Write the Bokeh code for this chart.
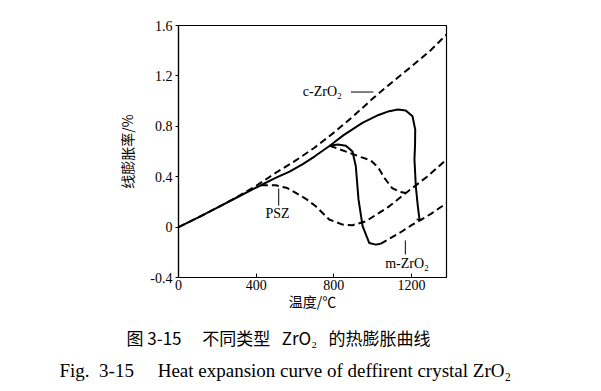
from bokeh.plotting import figure
from bokeh.models import Label, FixedTicker, Range1d, Title
from bokeh.embed import file_html
from bokeh.resources import INLINE

# ---- data ----
c_x = [0, 100, 200, 300, 400, 500, 600, 700, 800, 900, 1000, 1100, 1200, 1300, 1380]
c_y = [0, 0.075, 0.155, 0.237, 0.328, 0.43, 0.525, 0.63, 0.75, 0.88, 1.02, 1.15, 1.275, 1.405, 1.528]

main_x = [0, 100, 200, 300, 424, 500, 572, 640, 700, 779, 850, 947, 1030, 1085, 1130, 1170, 1205, 1219, 1218, 1215, 1222, 1232, 1241]
main_y = [0, 0.075, 0.155, 0.235, 0.332, 0.39, 0.44, 0.50, 0.56, 0.646, 0.73, 0.827, 0.89, 0.92, 0.933, 0.925, 0.88, 0.774, 0.65, 0.536, 0.324, 0.17, 0.06]

branch_x = [779, 820, 862, 896, 913, 927, 948, 982, 1016, 1040]
branch_y = [0.646, 0.655, 0.646, 0.60, 0.483, 0.218, 0.007, -0.126, -0.139, -0.133]

psz_x = [424, 501, 560, 604, 660, 707, 776, 845, 896, 965, 1085, 1171, 1280, 1380]
psz_y = [0.332, 0.332, 0.31, 0.271, 0.22, 0.165, 0.06, 0.02, 0.015, 0.046, 0.165, 0.271, 0.40, 0.536]

upper_x = [779, 879, 940, 990, 1030, 1060, 1100, 1140, 1171]
upper_y = [0.646, 0.59, 0.555, 0.53, 0.47, 0.39, 0.31, 0.28, 0.271]

m_x = [1040, 1100, 1150, 1200, 1250, 1300, 1380]
m_y = [-0.133, -0.08, -0.035, 0.015, 0.06, 0.105, 0.19]

x_ticks = [0, 400, 800, 1200]
y_ticks = [-0.4, 0, 0.4, 0.8, 1.2, 1.6]
y_tick_labels = ["-0.4", "0", "0.4", "0.8", "1.2", "1.6"]

SERIF = "Liberation Serif"
CJK = "Noto Sans CJK SC"
NB = "\u00a0"
IS = "\u3000"

p = figure(frame_width=268, frame_height=252, output_backend="svg", toolbar_location=None,
           x_range=Range1d(0, 1380), y_range=Range1d(-0.4, 1.6),
           min_border_left=178, min_border_right=144, min_border_top=25, min_border_bottom=112)
p.grid.visible = False
p.outline_line_color = "black"
p.outline_line_width = 1.2
p.background_fill_color = "white"
p.border_fill_color = "white"

for ax in (p.xaxis[0], p.yaxis[0]):
    ax.axis_line_color = "black"
    ax.axis_line_width = 1.2
    ax.major_tick_line_color = "black"
    ax.minor_tick_line_color = None
    ax.major_label_text_font = SERIF
    ax.major_label_text_font_size = "14px"
    ax.major_label_text_color = "black"
    ax.axis_label_text_font = CJK
    ax.axis_label_text_font_size = "14px"
    ax.axis_label_text_font_style = "normal"
    ax.axis_label_text_color = "black"

p.xaxis.ticker = FixedTicker(ticks=x_ticks)
p.xaxis.major_tick_in = 4
p.xaxis.major_tick_out = 0
p.xaxis.major_label_standoff = 2
p.xaxis.axis_label = "温度/℃"
p.xaxis.axis_label_standoff = -2

p.yaxis.ticker = FixedTicker(ticks=y_ticks)
p.yaxis.major_label_overrides = {t: l for t, l in zip(y_ticks, y_tick_labels)}
p.yaxis.major_tick_in = 0
p.yaxis.major_tick_out = 3
p.yaxis.major_label_standoff = 3
p.yaxis.axis_label = "线膨胀率/%"
p.yaxis.axis_label_standoff = 10

DASH = "7 4"
LW = 2
p.line(c_x, c_y, line_color="black", line_width=LW, line_dash=DASH)
p.line(psz_x, psz_y, line_color="black", line_width=LW, line_dash=DASH)
p.line(upper_x, upper_y, line_color="black", line_width=LW, line_dash=DASH)
p.line(m_x, m_y, line_color="black", line_width=LW, line_dash=DASH)
p.line(main_x, main_y, line_color="black", line_width=LW)
p.line(branch_x, branch_y, line_color="black", line_width=LW)
# small end cap of the main curve
p.segment(x0=[main_x[-1] - 15], y0=[main_y[-1]], x1=[main_x[-1] + 15], y1=[main_y[-1]],
          line_color="black", line_width=1.5)

# leader lines
p.segment(x0=[888], y0=[1.072], x1=[1004], y1=[1.072], line_color="black", line_width=1)
p.segment(x0=[516], y0=[0.306], x1=[516], y1=[0.171], line_color="black", line_width=1)
p.segment(x0=[1168], y0=[-0.106], x1=[1168], y1=[-0.217], line_color="black", line_width=1)

def lab(x, y, text, align="left"):
    p.add_layout(Label(x=x, y=y, text=text, text_font=SERIF, text_font_size="14px",
                       text_align=align, text_baseline="middle", text_color="black"))

lab(640, 1.076, "c-ZrO₂")
lab(510, 0.108, "PSZ", align="center")
lab(1177, -0.289, "m-ZrO₂", align="center")

cap_cn = "图" + NB + "3-15" + IS + NB + "不同类型" + NB * 3 + "ZrO₂" + NB * 3 + "的热膨胀曲线"
cap_en = "Fig." + NB + NB + "3-15" + NB * 5 + "Heat expansion curve of deffirent crystal ZrO₂"

t1 = Title(text=cap_cn, text_font=CJK, text_font_size="17px",
           text_font_style="normal", text_color="black", align="left", offset=-52, standoff=19)
t2 = Title(text=cap_en, text_font=SERIF,
           text_font_size="19px", text_font_style="normal", text_color="black", align="left",
           offset=-119, standoff=-3)
p.add_layout(t1, "below")
p.add_layout(t2, "below")

open("out.html", "w").write(file_html(p, INLINE))
